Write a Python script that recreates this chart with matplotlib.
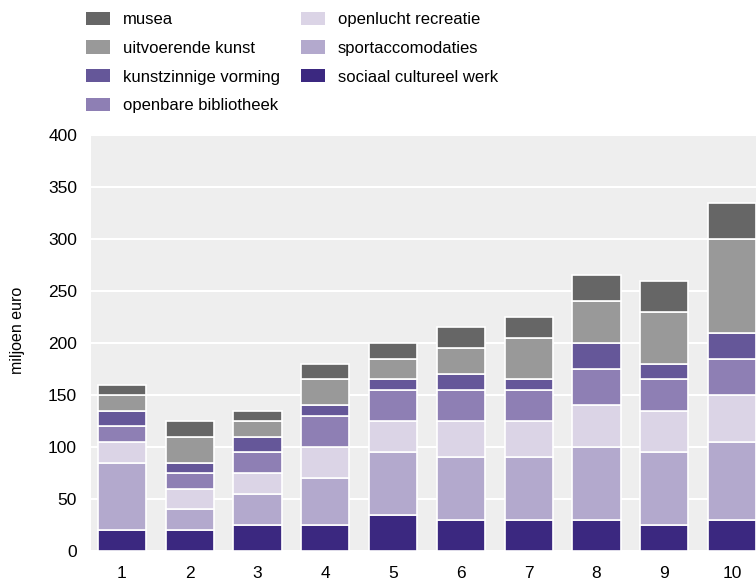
import matplotlib
matplotlib.use('Agg')
import matplotlib.pyplot as plt
import numpy as np

plt.rcParams['font.family'] = ['Liberation Sans', 'DejaVu Sans']

# categories on the x axis
groepen = ['1', '2', '3', '4', '5', '6', '7', '8', '9', '10']

# spending per sector, miljoen euro (stacked bottom to top)
sociaal_cultureel_werk = [20, 20, 25, 25, 35, 30, 30, 30, 25, 30]
sportaccomodaties      = [65, 20, 30, 45, 60, 60, 60, 70, 70, 75]
openlucht_recreatie    = [20, 20, 20, 30, 30, 35, 35, 40, 40, 45]
openbare_bibliotheek   = [15, 15, 20, 30, 30, 30, 30, 35, 30, 35]
kunstzinnige_vorming   = [15, 10, 15, 10, 10, 15, 10, 25, 15, 25]
uitvoerende_kunst      = [15, 25, 15, 25, 20, 25, 40, 40, 50, 90]
musea                  = [10, 15, 10, 15, 15, 20, 20, 25, 30, 35]

reeksen = [
    ('sociaal cultureel werk', sociaal_cultureel_werk, '#3b2880'),
    ('sportaccomodaties', sportaccomodaties, '#b3a9cd'),
    ('openlucht recreatie', openlucht_recreatie, '#dbd4e6'),
    ('openbare bibliotheek', openbare_bibliotheek, '#8e7fb4'),
    ('kunstzinnige vorming', kunstzinnige_vorming, '#655799'),
    ('uitvoerende kunst', uitvoerende_kunst, '#999999'),
    ('musea', musea, '#666666'),
]

fig = plt.figure(figsize=(7.56, 5.85), dpi=100)
ax = fig.add_axes([91/756, 34/585, 1 - 91/756, 416/585])
ax.set_facecolor('#eeeeee')

x = np.arange(1, len(groepen) + 1)
bottom = np.zeros(len(groepen))
handles = {}
for naam, waarden, kleur in reeksen:
    b = ax.bar(x, waarden, width=0.71, bottom=bottom, color=kleur,
               edgecolor='white', linewidth=1.2, label=naam, zorder=3)
    handles[naam] = b
    bottom += np.array(waarden)

ax.set_xlim(1 - 31/67.8, 10 + 24/67.8)
ax.set_ylim(0, 400)
ax.set_yticks(range(0, 401, 50))
ax.set_xticks(x)
ax.set_xticklabels(groepen)
ax.grid(axis='y', color='white', linewidth=1.5, zorder=0)
ax.set_axisbelow(True)
for s in ax.spines.values():
    s.set_visible(False)
ax.tick_params(length=0, labelsize=12.5, pad=10)
ax.tick_params(axis='x', pad=11)
ax.set_ylabel('miljoen euro', fontsize=11.5)
ax.yaxis.set_label_coords(-66/665, 0.531)

volgorde = ['musea', 'uitvoerende kunst', 'kunstzinnige vorming',
            'openbare bibliotheek', 'openlucht recreatie', 'sportaccomodaties',
            'sociaal cultureel werk']
leg = fig.legend([handles[n] for n in volgorde], volgorde, ncol=2,
                 loc='upper left', bbox_to_anchor=(79/756, 1 - 5/585),
                 borderaxespad=0, frameon=False, fontsize=12,
                 handlelength=1.44, handleheight=0.85,
                 handletextpad=0.78, columnspacing=1.25, labelspacing=0.8)
for h in leg.legend_handles:
    h.set_edgecolor('none')

fig.savefig('out.png', dpi=100)
